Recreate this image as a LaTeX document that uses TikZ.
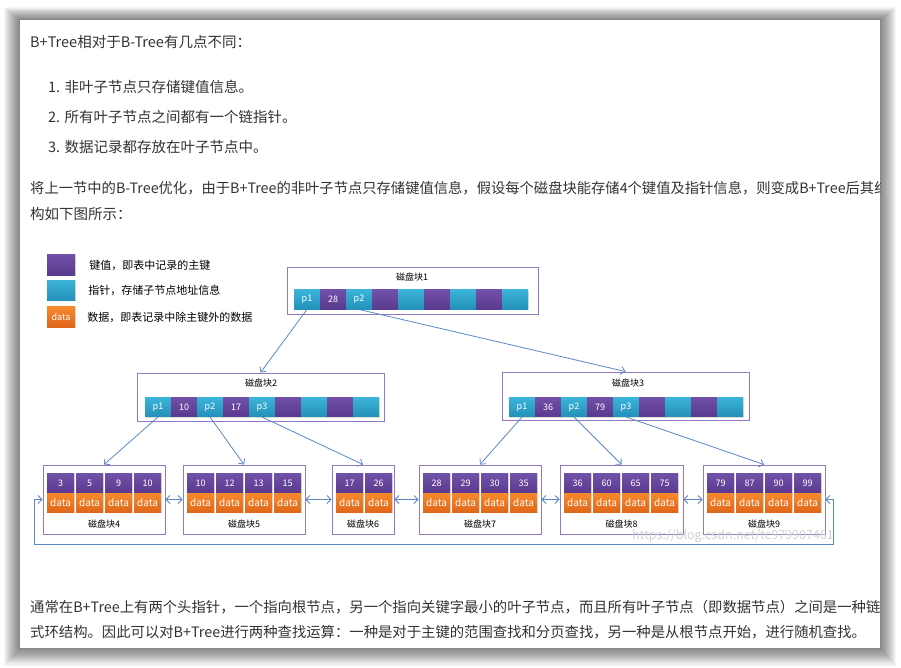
\documentclass[tikz,border=0pt]{standalone}
\usepackage{fontspec}
\setmainfont{Noto Sans CJK SC}
\usetikzlibrary{arrows.meta,calc,positioning,shadows}
\definecolor{key}{HTML}{5A3A8E}
\definecolor{keytop}{HTML}{7150A8}
\definecolor{ptr}{HTML}{2390B8}
\definecolor{ptrtop}{HTML}{3CB4DA}
\definecolor{data}{HTML}{DE661A}
\definecolor{datatop}{HTML}{F8892C}
\definecolor{boxline}{HTML}{9478C2}
\definecolor{linkblue}{HTML}{5A88C6}
\definecolor{bodygray}{HTML}{333333}

\tikzset{
  cell/.style={minimum width=26pt,minimum height=19.5pt,inner sep=0pt,text=white,
    font=\fontsize{9}{10}\selectfont,
    drop shadow={opacity=0.25,shadow xshift=0.7pt,shadow yshift=-0.9pt}},
  keycell/.style={cell,top color=keytop,bottom color=key},
  ptrcell/.style={cell,top color=ptrtop,bottom color=ptr},
  datacell/.style={cell,top color=datatop,bottom color=data},
  diskbox/.style={draw=boxline,line width=0.9pt,inner sep=0pt,fill=white},
  disklabel/.style={font=\fontsize{9}{10}\selectfont,text=black,inner sep=0pt},
  bodyline/.style={anchor=west,inner sep=0pt,text=bodygray,font=\fontsize{14.5}{17}\selectfont},
  legendtext/.style={inner sep=0pt,text=black,font=\fontsize{11}{13}\selectfont},
}

\begin{document}
\begin{tikzpicture}[x=1pt,y=-1pt,>={Straight Barb[length=4pt,width=8pt]},
  link/.style={draw=linkblue,line width=0.8pt,->},
  chain/.style={draw=linkblue,line width=0.8pt,<->}]
\useasboundingbox (0,0) rectangle (901,667);
\fill[white] (0,0) rectangle (901,667);
% card with its shadow
\foreach \i in {1,...,16}
  \fill[black,opacity=0.036] (20-\i,20-0.8*\i) rectangle (880+\i,648+1.1*\i);
\fill[white] (20,20) rectangle (880,648);

\begin{scope}
\clip (20,20) rectangle (880,648);
\node[bodyline] (intro) at (30,42) {B+Tree相对于B-Tree有几点不同：};
\node[bodyline] (item1) at (48,87) {1. 非叶子节点只存储键值信息。};
\node[bodyline] (item2) at (48,117) {2. 所有叶子节点之间都有一个链指针。};
\node[bodyline] (item3) at (48,147) {3. 数据记录都存放在叶子节点中。};
\node[bodyline,font=\fontsize{14.3}{17}\selectfont] (para1) at (30,188) {将上一节中的B-Tree优化，由于B+Tree的非叶子节点只存储键值信息，假设每个磁盘块能存储4个键值及指针信息，则变成B+Tree后其结};
\node[bodyline] (para2) at (30,214) {构如下图所示：};
\node[bodyline,font=\fontsize{14.35}{17}\selectfont] (para3) at (30,607) {通常在B+Tree上有两个头指针，一个指向根节点，另一个指向关键字最小的叶子节点，而且所有叶子节点（即数据节点）之间是一种链};
\node[bodyline,font=\fontsize{14.35}{17}\selectfont] (para4) at (30,632) {式环结构。因此可以对B+Tree进行两种查找运算：一种是对于主键的范围查找和分页查找，另一种是从根节点开始，进行随机查找。};
\end{scope}

% legend
\node[keycell,minimum width=28pt,minimum height=21pt] (leg1) at (61,265) {};
\node[ptrcell,minimum width=28pt,minimum height=20pt] (leg2) at (61,290) {};
\node[datacell,minimum width=28pt,minimum height=21pt] (leg3) at (61,317) {data};
\node[legendtext,anchor=west,right=14pt of leg1] (leg1t) {键值，即表中记录的主键};
\node[legendtext,anchor=west,right=13pt of leg2] (leg2t) {指针，存储子节点地址信息};
\node[legendtext,anchor=west,right=12pt of leg3] (leg3t) {数据，即表记录中除主键外的数据};

% inner disk blocks
\node[diskbox,minimum width=251pt,minimum height=47pt] (box1) at (412.5,290.5) {};
\node[diskbox,minimum width=247pt,minimum height=48pt] (box2) at (260.5,397) {};
\node[diskbox,minimum width=247pt,minimum height=48pt] (box3) at (625.5,396) {};
\node[disklabel] (lab1) at (412,277) {磁盘块1};
\node[disklabel] (lab2) at (261,383) {磁盘块2};
\node[disklabel] (lab3) at (628,383) {磁盘块3};
\foreach \kind/\lab [count=\i] in {ptr/p1,key/28,ptr/p2,key/,ptr/,key/,ptr/,key/,ptr/}
  \node[\kind cell] (b1c\i) at (307+26*\i-26,299.5) {\lab};
\foreach \kind/\lab [count=\i] in {ptr/p1,key/10,ptr/p2,key/17,ptr/p3,key/,ptr/,key/,ptr/}
  \node[\kind cell] (b2c\i) at (158+26*\i-26,407) {\lab};
\foreach \kind/\lab [count=\i] in {ptr/p1,key/36,ptr/p2,key/79,ptr/p3,key/,ptr/,key/,ptr/}
  \node[\kind cell] (b3c\i) at (522+26*\i-26,407) {\lab};

% leaf blocks
\foreach \n/\cx/\w/\keys in {4/104/122/{3,5,9,10},5/244/122/{10,12,13,15},6/363/62/{17,26},
    7/480/122/{28,29,30,35},8/621.5/123/{36,60,65,75},9/764/122/{79,87,90,99}}{
  \node[diskbox,minimum width=\w pt,minimum height=69pt] (leaf\n) at (\cx,499.5) {};
  \node[disklabel] (lab\n) at (\cx,524) {磁盘块\n};
  \foreach \k [count=\j] in \keys {
    \node[keycell,minimum width=27pt] (l\n k\j) at (\cx-\w/2+17.5+29*\j-29,483.25) {\k};
    \node[datacell,minimum width=27pt,font=\fontsize{10}{11}\selectfont] (l\n d\j) at (\cx-\w/2+17.5+29*\j-29,502.75) {data};
  }
}

% pointers
\draw[link] (b1c1.south) -- (box2.north);
\draw[link] (b1c3.south) -- (box3.north);
\draw[link] (b2c1.south) -- (leaf4.north);
\draw[link] (b2c3.south) -- (leaf5.north);
\draw[link] (b2c5.south) -- (leaf6.north);
\draw[link] (b3c1.south) -- (leaf7.north);
\draw[link] (b3c3.south) -- (leaf8.north);
\draw[link] (b3c5.south) -- (leaf9.north);
\foreach \a/\b in {4/5,5/6,6/7,7/8,8/9}
  \draw[chain] (leaf\a.east) -- (leaf\b.west);
\coordinate (loopL) at (34,544);
\coordinate (loopR) at (833,544);
\draw[chain] (leaf4.west) -| (loopL) -- (loopR) |- (leaf9.east);

\node[text=gray!35,font=\fontsize{12.5}{14}\selectfont,inner sep=0pt] (mark) at (733,536) {https://blog.csdn.net/tc979907461};
\end{tikzpicture}
\end{document}
